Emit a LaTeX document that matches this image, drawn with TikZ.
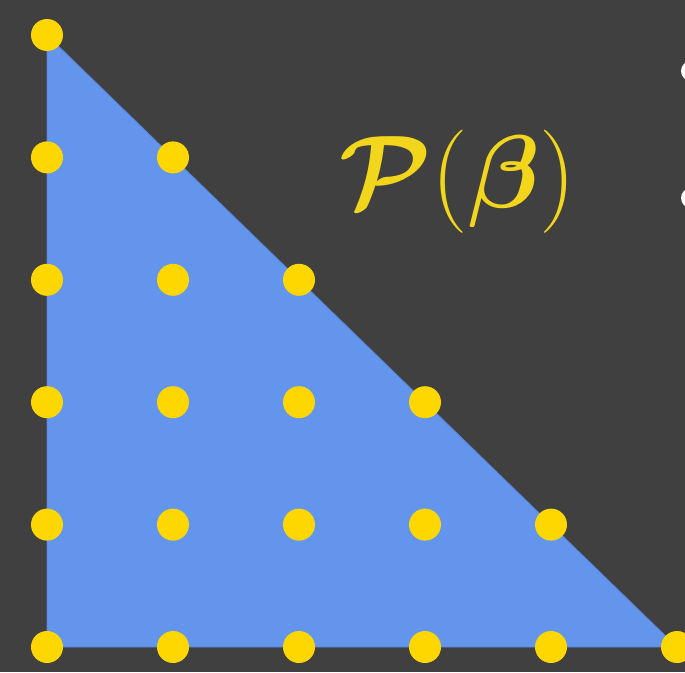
\documentclass[tikz,border=0pt]{standalone}
\usepackage{amsmath}
\definecolor{slidebg}{RGB}{64,64,64}
\definecolor{polyblue}{RGB}{100,149,237}
\definecolor{polyedge}{RGB}{88,132,214}
\definecolor{dotyellow}{RGB}{255,215,0}
\definecolor{labelyellow}{RGB}{242,214,28}
\tikzset{
  latticept/.style={circle,fill=dotyellow,inner sep=0pt,minimum size=32pt},
  bulletpt/.style={circle,fill=white,inner sep=0pt,minimum size=20pt}
}
\newcommand{\polylabel}{$\boldsymbol{\mathcal{P}}(\boldsymbol{\beta})$}
\begin{document}
\begin{tikzpicture}[x=1pt,y=-1pt]
    \useasboundingbox[fill=slidebg] (0,0) rectangle (685,672);

    % triangle corners
    \coordinate (top) at (47,35);
    \coordinate (origin) at (47,647);
    \coordinate (right) at (677,647);
    \fill[polyblue,draw=polyedge,line width=0.8pt] (top) -- (origin) -- (right) -- cycle;

    % lattice points
    \foreach \i [evaluate=\i as \jmax using int(5-\i)] in {0,...,5}
      \foreach \j in {0,...,\jmax}
        \node[latticept] (d-\i-\j) at ({47+126*\i},{647-122.4*\j}) {};

    \node[text=labelyellow,scale=4.15] (lbl) at (458,182) {\Huge\polylabel};

    \node[bulletpt] (b1) at (691,71) {};
    \node[bulletpt] (b2) at (691,198) {};
  \end{tikzpicture}
\end{document}
